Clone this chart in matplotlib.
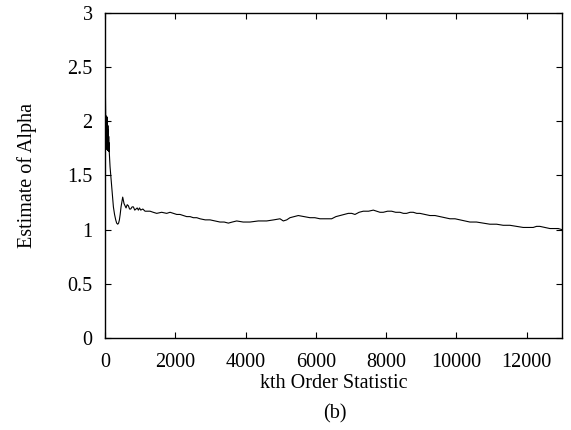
import matplotlib
matplotlib.use("Agg")
import matplotlib.pyplot as plt
import numpy as np

plt.rcParams['font.family'] = ['Liberation Serif', 'DejaVu Serif']

# k (order statistic) and the estimate of alpha
k = [1, 4, 8, 14, 20, 28, 36, 44, 50, 56, 62, 68, 74, 80, 86, 92, 98, 104,
     110, 116, 122,
     142, 165, 190, 215, 237, 270, 303, 330, 360, 385, 408, 430, 455, 480,
     502, 520,
     540, 570, 597, 630, 664, 697, 730, 770, 806, 845, 882, 915, 948, 980,
     1015, 1075, 1138, 1210, 1280, 1370, 1470, 1610, 1754, 1850, 1944, 2040,
     2133, 2230, 2323, 2420, 2512, 2610, 2702,
     2850, 2987, 3130, 3271, 3390, 3509, 3620, 3746, 3930, 4125, 4360, 4600,
     4800, 4978, 5073, 5170, 5262, 5380, 5499, 5660, 5831, 5970, 6116, 6280,
     6448, 6570, 6685, 6800, 6922, 7020, 7112, 7230, 7349, 7500, 7634,
     7728, 7823, 7918, 8040, 8155, 8270, 8392, 8490, 8581, 8680, 8771, 8870,
     8960, 9100, 9245, 9390, 9529, 9670, 9814, 9960, 10098, 10240, 10383,
     10570, 10762, 10950, 11142, 11330, 11521, 11710, 11900, 12040, 12184,
     12280, 12374, 12520, 12659, 12780, 12896, 13000]
alpha = [2.62, 2.45, 2.30, 2.15, 1.98, 2.05, 1.85, 2.02, 1.74, 2.04, 1.76,
         2.00, 1.73, 1.96, 1.75, 1.92, 1.74, 1.86, 1.72, 1.80, 1.70,
         1.58, 1.49, 1.40, 1.30, 1.21, 1.14, 1.09, 1.06, 1.05, 1.06, 1.09,
         1.14, 1.21, 1.26, 1.30, 1.27,
         1.24, 1.22, 1.20, 1.23, 1.22, 1.19, 1.19, 1.21, 1.21, 1.18, 1.19,
         1.20, 1.18, 1.20, 1.18, 1.19, 1.17, 1.17, 1.17, 1.16, 1.15, 1.16,
         1.15, 1.16, 1.15, 1.14, 1.14, 1.13, 1.12, 1.12, 1.11, 1.11, 1.10,
         1.09, 1.09, 1.08, 1.07, 1.07, 1.06, 1.07, 1.08, 1.07, 1.07, 1.08,
         1.08, 1.09, 1.10, 1.08, 1.09, 1.11, 1.12, 1.13, 1.12, 1.11, 1.11,
         1.10, 1.10, 1.10, 1.12, 1.13, 1.14, 1.15, 1.15, 1.14, 1.16, 1.17,
         1.17, 1.18,
         1.17, 1.16, 1.16, 1.17, 1.17, 1.16, 1.16, 1.15, 1.15, 1.16, 1.16,
         1.15, 1.15, 1.14, 1.13, 1.13, 1.12, 1.11, 1.10, 1.10, 1.09, 1.08,
         1.07, 1.07, 1.06, 1.05, 1.05, 1.04, 1.04, 1.03, 1.02, 1.02, 1.02,
         1.03, 1.03, 1.02, 1.01, 1.01, 1.01, 1.00]

xticks = [0, 2000, 4000, 6000, 8000, 10000, 12000]
yticks = [0, 0.5, 1, 1.5, 2, 2.5, 3]
yticklabels = ['0', '0.5', '1', '1.5', '2', '2.5', '3']

fig = plt.figure(figsize=(5.71, 4.30), dpi=100)
ax = fig.add_axes([0.184, 0.214, 0.800, 0.756])
ax.plot(k, alpha, color='black', lw=0.8)

ax.set_xlim(0, 13000)
ax.set_ylim(0, 3)
ax.set_xticks(xticks)
ax.set_yticks(yticks)
ax.set_yticklabels(yticklabels)
ax.tick_params(direction='in', length=4, width=0.8, top=True, right=True,
               labelsize=14.5)
ax.tick_params(axis='x', pad=10.5)
ax.tick_params(axis='y', pad=9)
for s in ax.spines.values():
    s.set_linewidth(1.0)

ax.set_xlabel('kth Order Statistic', fontsize=14.5, labelpad=1.5)
ax.set_ylabel('Estimate of Alpha', fontsize=14.5, labelpad=22)
fig.text(0.587, 0.027, '(b)', ha='center', fontsize=14.5)

fig.savefig('out.png', dpi=100)
